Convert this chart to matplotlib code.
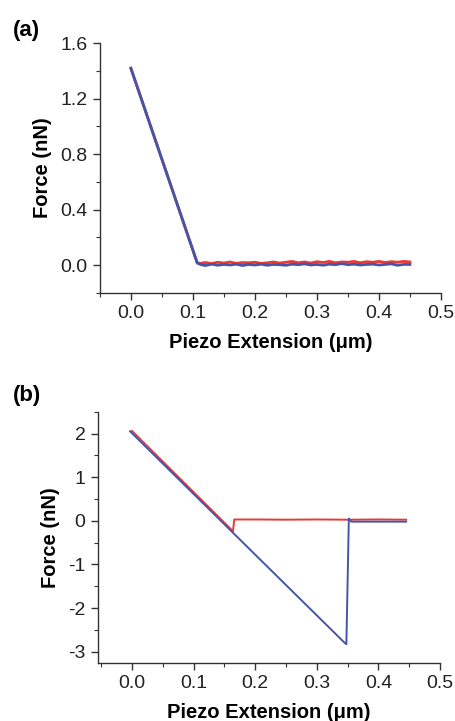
import matplotlib
matplotlib.use("Agg")
import matplotlib.pyplot as plt
from matplotlib.ticker import MultipleLocator

plt.rcParams['font.family'] = ['Liberation Sans', 'DejaVu Sans']
plt.rcParams['axes.unicode_minus'] = False

RED = "#e83a34"
BLUE = "#4456aa"

# panel (a): approach/retract, contact slope then flat baseline (jitter read by eye)
a_flat_x = [0.112, 0.12, 0.13, 0.14, 0.15, 0.16, 0.17, 0.18, 0.19, 0.20, 0.21, 0.22,
            0.23, 0.24, 0.25, 0.26, 0.27, 0.28, 0.29, 0.30, 0.31, 0.32, 0.33, 0.34,
            0.35, 0.36, 0.37, 0.38, 0.39, 0.40, 0.41, 0.42, 0.43, 0.44, 0.45]
a_red_flat = [0.012, 0.018, 0.01, 0.02, 0.014, 0.022, 0.012, 0.018, 0.016, 0.02, 0.012,
              0.016, 0.022, 0.014, 0.02, 0.026, 0.016, 0.022, 0.014, 0.024, 0.018, 0.026,
              0.016, 0.022, 0.02, 0.026, 0.016, 0.024, 0.02, 0.026, 0.018, 0.024, 0.02,
              0.026, 0.022]
a_blue_flat = [0.004, -0.004, 0.006, -0.002, 0.004, 0.0, 0.006, -0.004, 0.004, 0.0, 0.006,
               -0.002, 0.004, 0.002, -0.002, 0.006, 0.002, 0.008, 0.0, 0.004, -0.002, 0.006,
               0.002, 0.01, 0.002, 0.006, 0.0, 0.004, 0.006, 0.0, 0.004, 0.008, -0.002,
               0.004, 0.004]
a_slope_x = [0.0, 0.107]
a_slope_y = [1.42, 0.015]

# panel (b)
b_red_x = [0.0, 0.164, 0.166, 0.20, 0.25, 0.30, 0.35, 0.40, 0.445]
b_red_y = [2.06, -0.24, 0.03, 0.03, 0.025, 0.03, 0.025, 0.03, 0.025]
b_blue_x = [-0.003, 0.344, 0.348, 0.352, 0.356, 0.40, 0.445]
b_blue_y = [2.05, -2.78, -2.83, 0.05, -0.02, -0.02, -0.02]

fig = plt.figure(figsize=(4.56, 7.21), dpi=100)
ax_a = fig.add_axes([0.219, 0.594, 0.748, 0.346])
ax_b = fig.add_axes([0.215, 0.081, 0.750, 0.348])

ax_a.plot(a_slope_x + a_flat_x, a_slope_y + a_red_flat, color=RED, lw=2.0)
ax_a.plot(a_slope_x + a_flat_x, a_slope_y + a_blue_flat, color=BLUE, lw=2.0)
ax_a.set_xlim(-0.05, 0.5)
ax_a.set_ylim(-0.2, 1.6)
ax_a.yaxis.set_major_locator(MultipleLocator(0.4))
ax_a.yaxis.set_minor_locator(MultipleLocator(0.2))
ax_a.yaxis.set_major_formatter(plt.FormatStrFormatter("%.1f"))

ax_b.plot(b_red_x, b_red_y, color=RED, lw=1.4)
ax_b.plot(b_blue_x, b_blue_y, color=BLUE, lw=1.4)
ax_b.set_xlim(-0.055, 0.5)
ax_b.set_ylim(-3.25, 2.5)
ax_b.yaxis.set_major_locator(MultipleLocator(1))
ax_b.yaxis.set_minor_locator(MultipleLocator(0.5))

for ax in (ax_a, ax_b):
    ax.xaxis.set_major_locator(MultipleLocator(0.1))
    ax.xaxis.set_minor_locator(MultipleLocator(0.05))
    ax.xaxis.set_major_formatter(plt.FormatStrFormatter("%.1f"))
    for side in ("top", "right"):
        ax.spines[side].set_visible(False)
    for side in ("left", "bottom"):
        ax.spines[side].set_color("#333333")
        ax.spines[side].set_linewidth(1.0)
    ax.tick_params(which="major", direction="out", length=5, width=1, labelsize=14,
                   colors="#333333", labelcolor="#222222", pad=4)
    ax.tick_params(which="minor", direction="out", length=3, width=0.8, colors="#333333")
    ax.set_xlabel("Piezo Extension (\u03bcm)", fontsize=14.5, weight="bold", labelpad=8)
    ax.set_ylabel("Force (nN)", fontsize=14.5, weight="bold", labelpad=6)

fig.text(0.028, 0.958, "(a)", fontsize=16, weight="bold", va="center")
fig.text(0.028, 0.451, "(b)", fontsize=16, weight="bold", va="center")

fig.savefig("out.png", dpi=100)
